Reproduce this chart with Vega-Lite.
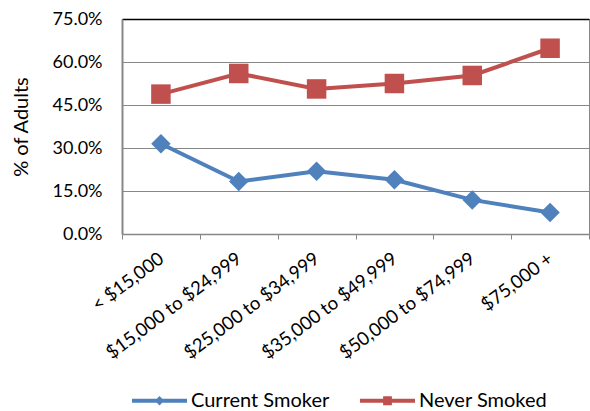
{
  "$schema": "https://vega.github.io/schema/vega-lite/v6.json",
  "width": 467,
  "height": 215,
  "autosize": {"type": "none"},
  "padding": {"left": 122, "top": 19, "right": 1, "bottom": 177},
  "config": {
    "font": "Lato",
    "view": {"stroke": "#878787", "strokeWidth": 1},
    "axis": {"labelFont": "Lato", "titleFont": "Lato", "labelColor": "#000", "titleColor": "#000"}
  },
  "data": {
    "values": [
      {"income": "< $15,000", "series": "Current Smoker", "pct": 0.315},
      {"income": "$15,000 to $24,999", "series": "Current Smoker", "pct": 0.183},
      {"income": "$25,000 to $34,999", "series": "Current Smoker", "pct": 0.219},
      {"income": "$35,000 to $49,999", "series": "Current Smoker", "pct": 0.189},
      {"income": "$50,000 to $74,999", "series": "Current Smoker", "pct": 0.119},
      {"income": "$75,000 +", "series": "Current Smoker", "pct": 0.075},
      {"income": "< $15,000", "series": "Never Smoked", "pct": 0.488},
      {"income": "$15,000 to $24,999", "series": "Never Smoked", "pct": 0.56},
      {"income": "$25,000 to $34,999", "series": "Never Smoked", "pct": 0.506},
      {"income": "$35,000 to $49,999", "series": "Never Smoked", "pct": 0.525},
      {"income": "$50,000 to $74,999", "series": "Never Smoked", "pct": 0.553},
      {"income": "$75,000 +", "series": "Never Smoked", "pct": 0.648}
    ]
  },
  "encoding": {
    "x": {
      "field": "income",
      "type": "ordinal",
      "sort": null,
      "bandPosition": 0.5,
      "scale": {"type": "band", "paddingInner": 0, "paddingOuter": 0},
      "axis": {
        "title": null,
        "labelAngle": -37,
        "labelAlign": "right",
        "labelBaseline": "middle",
        "labelFontSize": 18.5,
        "labelPadding": 17,
        "tickBand": "extent",
        "tickSize": 5,
        "tickColor": "#878787",
        "domainColor": "#878787",
        "domainWidth": 1.5,
        "labelOverlap": false
      }
    },
    "y": {
      "field": "pct",
      "type": "quantitative",
      "scale": {"domain": [0, 0.75], "nice": false},
      "axis": {
        "title": "% of Adults",
        "titleFontSize": 20,
        "titleFontWeight": "normal",
        "titlePadding": 21,
        "values": [0, 0.15, 0.3, 0.45, 0.6, 0.75],
        "format": ".1%",
        "labelFontSize": 18,
        "labelPadding": 20,
        "ticks": false,
        "domainColor": "#878787",
        "domainWidth": 2,
        "gridColor": {"condition": {"test": "datum.value >= 0.75", "value": "#000000"}, "value": "#878787"},
        "gridWidth": {"condition": {"test": "datum.value >= 0.75", "value": 1.6}, "value": 1},
        "gridOpacity": 1
      }
    }
  },
  "layer": [
    {
      "mark": {"type": "line", "strokeWidth": 4},
      "encoding": {
        "color": {"field": "series", "type": "nominal", "scale": {"domain": ["Current Smoker", "Never Smoked"], "range": ["#4F81BD", "#C0504D"]}, "legend": null}
      }
    },
    {
      "mark": {"type": "point", "filled": true, "opacity": 1, "size": 380},
      "encoding": {
        "color": {"field": "series", "type": "nominal", "scale": {"domain": ["Current Smoker", "Never Smoked"], "range": ["#4F81BD", "#C0504D"]}, "legend": null},
        "shape": {"field": "series", "type": "nominal", "scale": {"domain": ["Current Smoker", "Never Smoked"], "range": ["diamond", "square"]}, "legend": null}
      }
    },
    {
      "mark": {"type": "point", "filled": true, "opacity": 0, "size": 3025},
      "encoding": {
        "color": {
          "field": "series", "type": "nominal",
          "scale": {"domain": ["Current Smoker", "Never Smoked"], "range": ["#4F81BD", "#C0504D"]},
          "legend": {
            "title": null,
            "orient": "none",
            "direction": "horizontal",
            "legendX": 10,
            "legendY": 354,
            "symbolSize": 3025,
            "symbolOpacity": 1,
            "symbolStrokeWidth": 0,
            "labelFontSize": 20,
            "labelFont": "Lato",
            "labelColor": "#000",
            "labelOffset": 4,
            "columnPadding": 30,
            "padding": 0
          }
        },
        "shape": {
          "field": "series", "type": "nominal",
          "scale": {"domain": ["Current Smoker", "Never Smoked"], "range": ["M-1,-0.073H1V0.073H-1Z M0,-0.17L0.17,0L0,0.17L-0.17,0Z", "M-1,-0.073H1V0.073H-1Z M-0.16,-0.16H0.16V0.16H-0.16Z"]},
          "legend": {
            "title": null,
            "orient": "none",
            "direction": "horizontal",
            "legendX": 10,
            "legendY": 354,
            "symbolSize": 3025,
            "symbolOpacity": 1,
            "symbolStrokeWidth": 0,
            "labelFontSize": 20,
            "labelFont": "Lato",
            "labelColor": "#000",
            "labelOffset": 4,
            "columnPadding": 30,
            "padding": 0
          }
        }
      }
    }
  ],
  "resolve": {"scale": {"color": "independent", "shape": "independent"}}
}
